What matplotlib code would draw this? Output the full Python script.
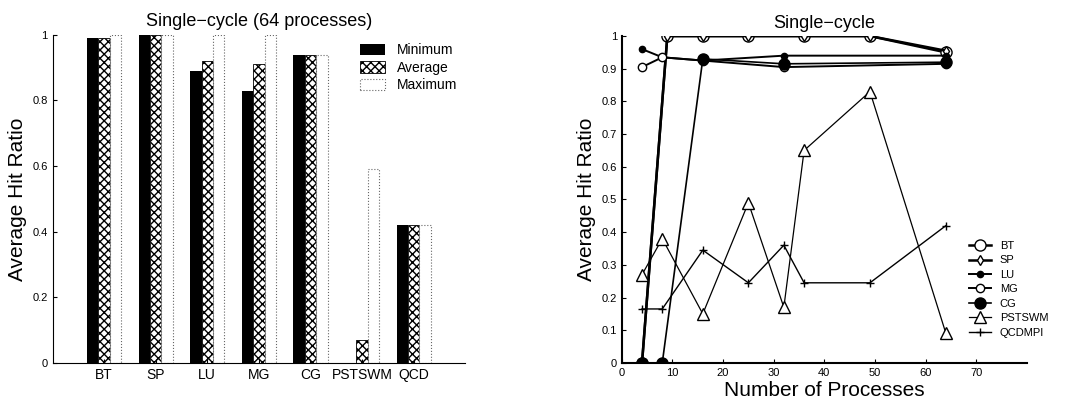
import matplotlib
matplotlib.use("Agg")
import matplotlib.pyplot as plt
import numpy as np

plt.rcParams['font.family'] = ['Liberation Sans', 'DejaVu Sans']

######## Datos barras (64 procesos) ########
benchmarks = ["BT", "SP", "LU", "MG", "CG", "PSTSWM", "QCD"]
minimo = [0.99, 1.0, 0.89, 0.83, 0.94, 0.0, 0.42]
promedio = [0.99, 1.0, 0.92, 0.91, 0.94, 0.07, 0.42]
maximo = [1.0, 1.0, 1.0, 1.0, 0.94, 0.59, 0.42]

######## Datos lineas ########
x_cuad = [4, 9, 16, 25, 36, 49, 64]
x_pot2 = [4, 8, 16, 32, 64]
x_todos = [4, 8, 16, 25, 32, 36, 49, 64]
bt = [0.0, 1.0, 1.0, 1.0, 1.0, 1.0, 0.95]
sp = [0.0, 1.0, 1.0, 1.0, 1.0, 1.0, 0.955]
lu = [0.96, 0.935, 0.925, 0.94, 0.94]
mg = [0.905, 0.935, 0.925, 0.905, 0.915]
cg = [0.0, 0.0, 0.93, 0.915, 0.92]
pstswm = [0.27, 0.38, 0.15, 0.49, 0.17, 0.65, 0.83, 0.09]
qcdmpi = [0.165, 0.165, 0.345, 0.245, 0.36, 0.245, 0.245, 0.42]

fig = plt.figure(figsize=(10.72, 4.05), dpi=100)

######## Panel izquierdo ########
ax = fig.add_axes([0.049, 0.104, 0.385, 0.810])
ind = np.arange(1, len(benchmarks) + 1)
width = 0.22
ax.bar(ind - width, minimo, width, color='black', label='Minimum')
ax.bar(ind, promedio, width, color='white', edgecolor='black', hatch='xxxx', linewidth=0.6, label='Average')
ax.bar(ind + width, maximo, width, color='white', edgecolor='0.4', linestyle=':', linewidth=0.8, label='Maximum')
ax.set_xlim(0, 8)
ax.set_ylim(0, 1)
ax.set_xticks(ind)
ax.set_xticklabels(benchmarks, fontsize=10)
ax.set_yticks([0, 0.2, 0.4, 0.6, 0.8, 1])
ax.set_yticklabels(["0", "0.2", "0.4", "0.6", "0.8", "1"], fontsize=8)
ax.tick_params(direction='in', length=3)
ax.set_ylabel("Average Hit Ratio", fontsize=15)
ax.set_title("Single\u2212cycle (64 processes)", fontsize=13)
for lado in ['top', 'right']:
	ax.spines[lado].set_visible(False)
ax.legend(loc='upper right', frameon=False, fontsize=10, handlelength=1.8, handleheight=0.9,
	labelspacing=0.25, borderaxespad=0.2)

######## Panel derecho ########
ax2 = fig.add_axes([0.580, 0.104, 0.378, 0.807])
ax2.plot(x_cuad, bt, marker='o', mfc='white', color='black', linewidth=1.8, markersize=8, label='BT')
ax2.plot(x_cuad, sp, marker='d', mfc='white', color='black', linewidth=1.8, markersize=5, label='SP')
ax2.plot(x_pot2, lu, marker='.', color='black', linewidth=1.4, markersize=9, label='LU')
ax2.plot(x_pot2, mg, marker='o', mfc='white', color='black', linewidth=1.4, markersize=6, label='MG')
ax2.plot(x_pot2, cg, marker='o', color='black', linewidth=1.2, markersize=8, label='CG')
ax2.plot(x_todos, pstswm, marker='^', mfc='white', color='black', linewidth=0.9, markersize=9, label='PSTSWM')
ax2.plot(x_todos, qcdmpi, marker='+', color='black', linewidth=1.0, markersize=6, label='QCDMPI')
ax2.set_xlim(0, 80)
ax2.set_ylim(0, 1)
ax2.set_xticks(range(0, 80, 10))
ax2.set_xticklabels([str(v) for v in range(0, 80, 10)], fontsize=8)
ax2.set_yticks(np.arange(0, 1.01, 0.1))
ax2.set_yticklabels(["0", "0.1", "0.2", "0.3", "0.4", "0.5", "0.6", "0.7", "0.8", "0.9", "1"], fontsize=8)
ax2.tick_params(direction='in', length=3)
for lado in ['top', 'right']:
	ax2.spines[lado].set_visible(False)
ax2.spines['left'].set_linewidth(1.5)
ax2.spines['bottom'].set_linewidth(1.5)
ax2.set_xlabel("Number of Processes", fontsize=15, labelpad=2)
ax2.set_ylabel("Average Hit Ratio", fontsize=15)
ax2.set_title("Single\u2212cycle", fontsize=13)
ax2.legend(loc='center left', bbox_to_anchor=(0.845, 0.06, 0.2, 0.33), frameon=False, fontsize=8,
	handlelength=2.0, labelspacing=0.4, borderaxespad=0)

plt.savefig("out.png", dpi=100)
